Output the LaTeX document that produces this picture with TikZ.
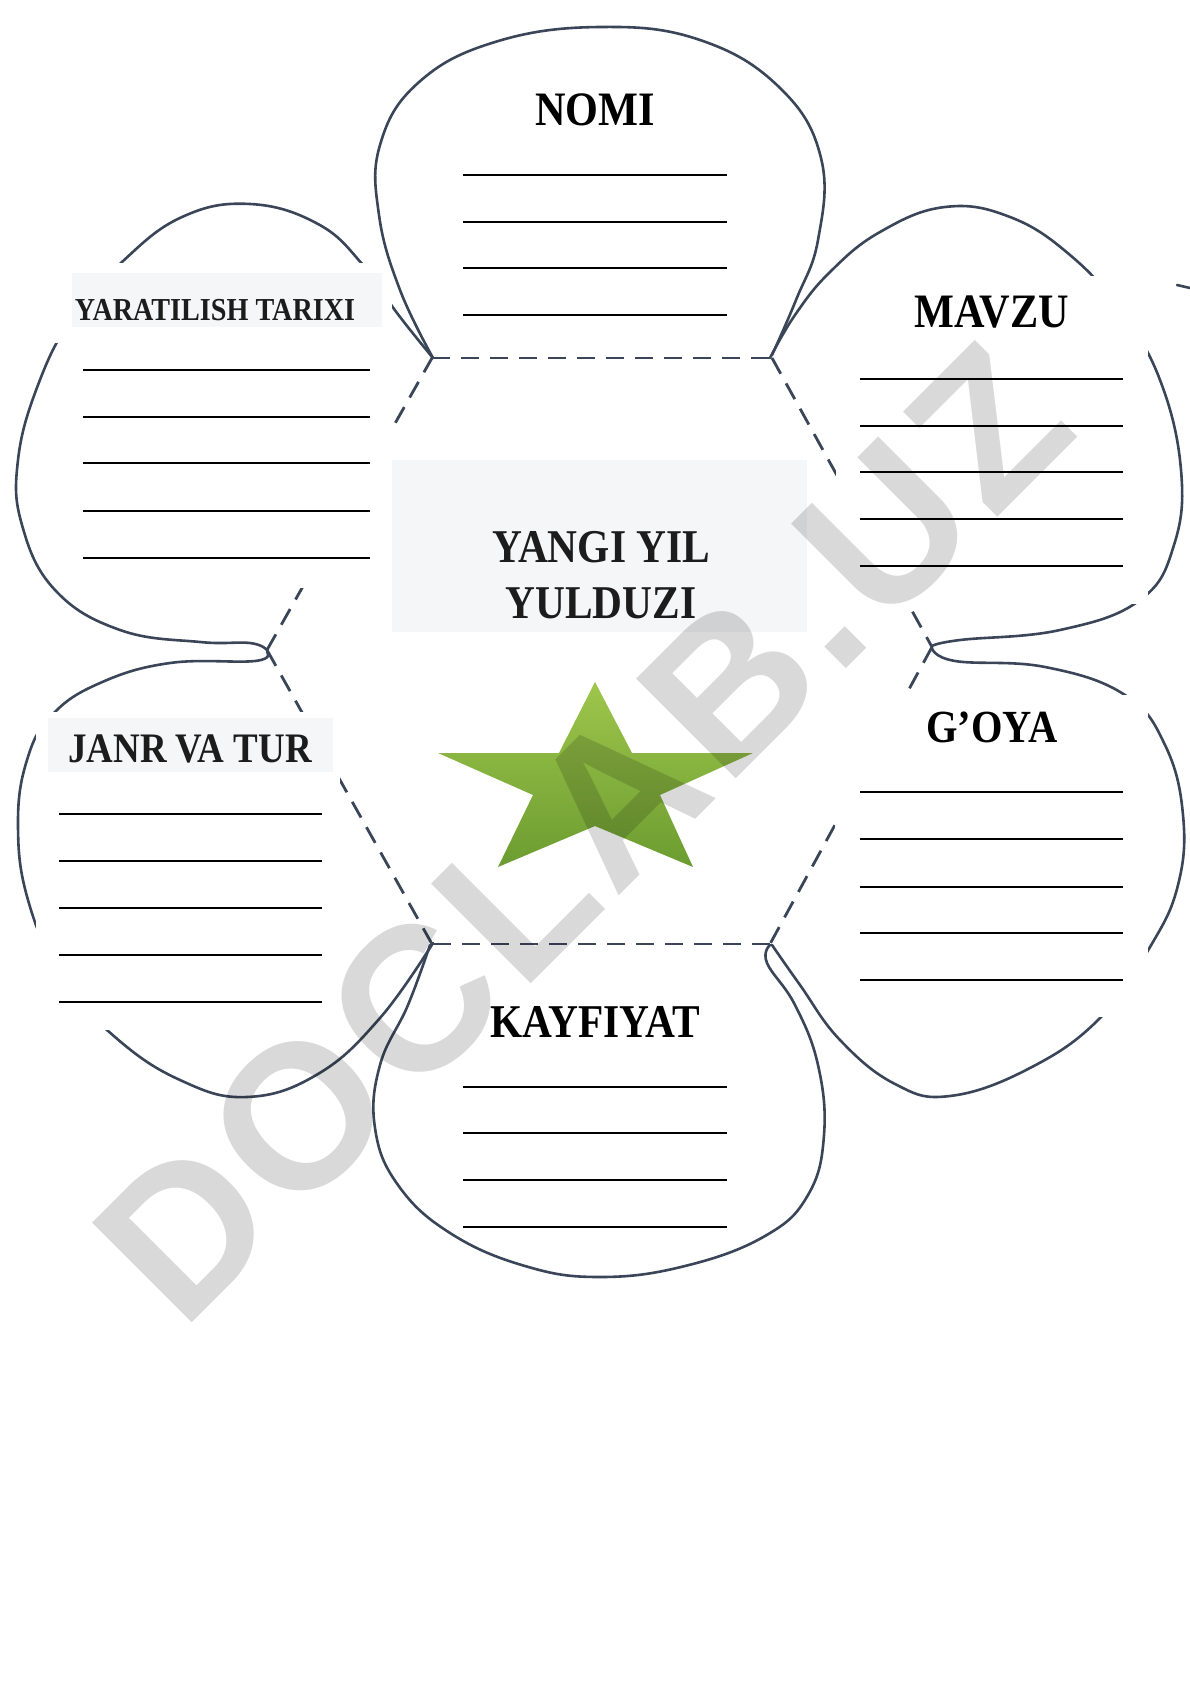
\documentclass[tikz,border=0pt]{standalone}
\usepackage{fontspec}
\newfontfamily\lblfont{Liberation Serif}[FakeStretch=0.88]
\newfontfamily\wmfont{Liberation Sans}[LetterSpace=4]
\definecolor{petal}{RGB}{58,70,88}
\definecolor{boxgrey}{RGB}{245,246,248}
\definecolor{startop}{RGB}{158,198,76}
\definecolor{starbot}{RGB}{108,156,48}
\definecolor{ink}{RGB}{28,28,28}
\tikzset{
  petalline/.style={draw=petal, line width=2.6pt, line cap=round, line join=round},
  hexline/.style={draw=petal, line width=2.8pt, dash pattern=on 18pt off 11pt},
  frame/.style={fill=white, draw=none},
  hilite/.style={fill=boxgrey, draw=none},
  title/.style={anchor=base, inner sep=0pt, text=black},
  rule/.style={draw=black, line width=2.5pt},
}
\newcommand{\lblsize}[1]{\lblfont\bfseries\fontsize{#1}{#1}\selectfont}
\begin{document}
\begin{tikzpicture}[x=1pt,y=-1pt]
\fill[white] (0,0) rectangle (1190,1683);
\useasboundingbox (0,0) rectangle (1190,1683);

% hexagon vertices
\coordinate (hTL) at (432,358);
\coordinate (hTR) at (772,358);
\coordinate (hR)  at (932,647);
\coordinate (hBR) at (770,944);
\coordinate (hBL) at (432,944);
\coordinate (hL)  at (267,650);

% dashed hexagon
\draw[hexline] (hTL) -- (hTR);
\draw[hexline] (hTR) -- (hR);
\draw[hexline] (hR) -- (hBR);
\draw[hexline] (hBR) -- (hBL);
\draw[hexline] (hBL) -- (hL);
\draw[hexline] (hL) -- (hTL);

% petals (except top)
% upper left
\draw[petalline] plot[smooth, tension=0.7] coordinates {
 (433,358) (397,313) (363,265) (318,224) (250,204) (182,217) (122,262)
 (72,318) (38,385) (18,460) (22,525) (55,590) (120,630) (200,642) (250,643) (267,650)};
% upper right
\draw[petalline] plot[smooth, tension=0.7] coordinates {
 (770,358) (795,315) (830,272) (880,232) (945,207) (1010,217) (1070,255)
 (1120,310) (1160,380) (1181,470) (1174,545) (1140,600) (1060,630) (960,640) (932,646)};
% lower right
\draw[petalline] plot[smooth, tension=0.7] coordinates {
 (932,648) (955,661) (1045,667) (1125,695) (1165,745) (1183,815) (1178,885)
 (1150,947) (1100,1018) (1030,1068) (950,1096) (895,1084) (840,1040) (800,985) (772,945)};
% bottom
\draw[petalline] plot[smooth, tension=0.7] coordinates {
 (430,945) (408,1005) (380,1065) (375,1128) (398,1185) (450,1233) (525,1266)
 (600,1277) (685,1266) (765,1236) (808,1195) (824,1135) (818,1065) (795,1005) (767,963) (770,945)};
% lower left
\draw[petalline] plot[smooth, tension=0.7] coordinates {
 (267,652) (255,661) (170,663) (100,683) (52,715) (27,760) (18,825) (28,900)
 (62,978) (115,1037) (180,1080) (247,1097) (318,1074) (380,1018) (433,943)};
\draw[petalline] (1177,285) -- (1190,288);

% white text frames
\fill[frame] (42,263) rectangle (392,343);
\fill[frame] (836,276) rectangle (1148,604);
\fill[frame] (835,695) rectangle (1148,1017);
\fill[frame] (36,712) rectangle (340,1030);
\fill[frame] (300,428) rectangle (805,588);

% top petal
\draw[petalline] plot[smooth, tension=0.7] coordinates {
 (433,358) (400,290) (379,215) (380,145) (418,83) (495,42) (600,27)
 (700,40) (780,88) (821,158) (818,240) (796,300) (772,355)};

% grey highlight boxes
\fill[hilite] (72,273) rectangle (382,327);
\fill[hilite] (48,718) rectangle (333,772);
\fill[hilite] (392,460) rectangle (807,632);

% titles
\node[title, font=\lblsize{48}] (nomi) at (595,125) {NOMI};
\node[title, font=\lblsize{32}, text=ink] (yar) at (215,320) {YARATILISH TARIXI};
\node[title, font=\lblsize{48}] (mavzu) at (992,327) {MAVZU};
\node[title, font=\lblsize{46}] (goya) at (992,742) {G’OYA};
\node[title, font=\lblsize{42}, text=ink] (janr) at (190,762) {JANR VA TUR};
\node[title, font=\lblsize{47}] (kayf) at (595,1037) {KAYFIYAT};
\node[title, font=\lblsize{47}, text=ink] (yangi) at (601,562) {YANGI YIL};
\node[title, font=\lblsize{47}, text=ink] (yuld) at (601,618) {YULDUZI};

% rules
\foreach \y in {175,222,268,315} \draw[rule] (463,\y) -- (727,\y);
\foreach \y in {370,417,463,511,558} \draw[rule] (83,\y) -- (370,\y);
\foreach \y in {379,426,472,519,566} \draw[rule] (860,\y) -- (1123,\y);
\foreach \y in {792,839,887,933,980} \draw[rule] (860,\y) -- (1123,\y);
\foreach \y in {814,861,908,955,1002} \draw[rule] (59,\y) -- (322,\y);
\foreach \y in {1087,1133,1180,1227} \draw[rule] (463,\y) -- (727,\y);

% star
\shade[top color=startop, bottom color=starbot]
 (595,682) -- (632,753) -- (753,753) -- (660,795) -- (693,867) -- (595,826)
 -- (498,867) -- (533,795) -- (438,753) -- (559,753) -- cycle;

% watermark
\node[rotate=45, anchor=base west, inner sep=0pt, text=black, text opacity=0.15,
      font=\wmfont\bfseries\fontsize{205}{205}\selectfont] (wm) at (182,1333) {DOCLAB.UZ};
\end{tikzpicture}
\end{document}
